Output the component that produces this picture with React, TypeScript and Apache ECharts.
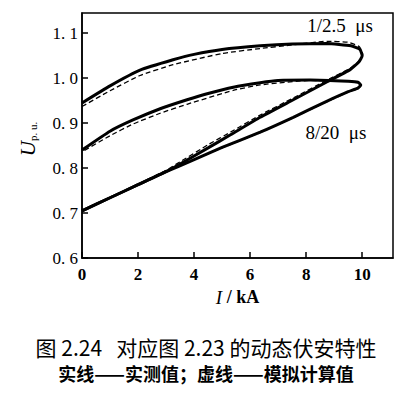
import React, { useEffect, useRef } from "react";
import * as echarts from "echarts";

// x ticks (kA) and y ticks (p.u.)
const xTickValues = [0, 2, 4, 6, 8, 10];
const yTickValues = [0.6, 0.7, 0.8, 0.9, 1.0, 1.1];

// 1/2.5 µs loop — measured (solid)
const loop1Measured: [number, number][] = [
  [0, 0.705], [1, 0.734], [2, 0.763], [3, 0.792], [3.5, 0.809], [4.5, 0.845],
  [5.3, 0.874], [6.36, 0.913], [7.54, 0.952], [8.75, 0.992], [9.57, 1.019],
  [9.88, 1.036], [10.0, 1.05], [9.92, 1.064], [9.6, 1.072], [8.75, 1.077],
  [7.5, 1.076], [6.36, 1.072], [5, 1.064], [4, 1.053], [3.25, 1.041],
  [2.07, 1.018], [1, 0.983], [0, 0.945],
];

// 1/2.5 µs loop — simulated (dashed)
const loop1Simulated: [number, number][] = [
  [0, 0.706], [1, 0.735], [2, 0.764], [3, 0.795], [3.5, 0.814], [4.5, 0.852],
  [5.3, 0.88], [6.36, 0.918], [7.54, 0.956], [8.75, 0.996], [9.57, 1.022],
  [9.88, 1.038], [10.02, 1.053], [9.9, 1.07], [9.5, 1.08], [8.75, 1.082],
  [7.5, 1.074], [6.36, 1.066], [5, 1.055], [3.25, 1.03], [2.07, 1.006],
  [1, 0.972], [0, 0.937],
];

// 8/20 µs loop — measured (solid)
const loop2Measured: [number, number][] = [
  [0, 0.705], [1, 0.734], [2, 0.763], [3, 0.792], [3.86, 0.815], [5, 0.846],
  [6.36, 0.88], [7.54, 0.913], [8.75, 0.949], [9.5, 0.97], [9.85, 0.978],
  [9.95, 0.985], [9.85, 0.991], [9.5, 0.993], [8.14, 0.996], [7, 0.995],
  [6.36, 0.99], [5.4, 0.98], [4.5, 0.966], [3.75, 0.952], [2.79, 0.932],
  [1.82, 0.907], [1, 0.882], [0, 0.84],
];

// 8/20 µs loop — simulated (dashed)
const loop2Simulated: [number, number][] = [
  [0, 0.705], [3, 0.792], [3.86, 0.815], [5, 0.845], [6.36, 0.879],
  [7.54, 0.912], [8.75, 0.948], [9.5, 0.969], [9.85, 0.977], [9.96, 0.983],
  [9.85, 0.99], [9.5, 0.993], [8.14, 0.995], [6.36, 0.985], [5.4, 0.973],
  [3.75, 0.942], [2.79, 0.922], [1.82, 0.898], [1, 0.872], [0, 0.836],
];

const SERIF = "'Liberation Serif', 'DejaVu Serif', serif";
const CJK = "'Noto Sans CJK SC', sans-serif";

export default function App() {
  const ref = useRef<HTMLDivElement>(null);
  useEffect(() => {
    if (!ref.current) return;
    const chart = echarts.init(ref.current, null, { renderer: "svg" });
    const solid = (name: string, data: [number, number][]) => ({
      name, type: "line", data, showSymbol: false, smooth: 0.15,
      lineStyle: { color: "#000", width: 3 }, z: 3,
    });
    const dashed = (name: string, data: [number, number][]) => ({
      name, type: "line", data, showSymbol: false, smooth: 0.15,
      lineStyle: { color: "#000", width: 1.3, type: [5, 3] }, z: 4,
    });
    chart.setOption({
      animation: false,
      backgroundColor: "#fff",
      grid: { left: 82, top: 13, right: 21, bottom: 141, show: true, borderColor: "#000", borderWidth: 1.5 },
      xAxis: {
        type: "value", min: 0, max: 11.1, interval: 2,
        axisLine: { lineStyle: { color: "#000", width: 1.5 } },
        axisTick: { inside: true, length: 6, lineStyle: { color: "#000", width: 1.5 } },
        axisLabel: {
          color: "#000", fontFamily: SERIF, fontSize: 17, fontWeight: "bold", margin: 8,
          showMaxLabel: false,
          formatter: (v: number) => (xTickValues.includes(Math.round(v)) && Math.abs(v - Math.round(v)) < 1e-6 ? String(Math.round(v)) : ""),
        },
        splitLine: { show: false },
        name: "{i|I}{t| / kA}",
        nameLocation: "middle",
        nameGap: 29,
        nameTextStyle: {
          color: "#000", fontFamily: SERIF, fontSize: 18,
          rich: {
            i: { fontStyle: "italic", fontFamily: SERIF, fontSize: 19, color: "#000" },
            t: { fontFamily: SERIF, fontSize: 18, fontWeight: "bold", color: "#000" },
          },
        },
      },
      yAxis: {
        type: "value", min: 0.6, max: 1.145, interval: 0.1,
        axisLine: { lineStyle: { color: "#000", width: 1.5 } },
        axisTick: { inside: true, length: 6, lineStyle: { color: "#000", width: 1.5 } },
        axisLabel: {
          color: "#000", fontFamily: SERIF, fontSize: 17, margin: 4,
          showMaxLabel: false,
          formatter: (v: number) => {
            const hit = yTickValues.find((t) => Math.abs(t - v) < 1e-6);
            return hit === undefined ? "" : hit.toFixed(1).replace(".", ". ");
          },
        },
        splitLine: { show: false },
      },
      series: [
        solid("1/2.5 μs 实测", loop1Measured),
        dashed("1/2.5 μs 模拟", loop1Simulated),
        solid("8/20 μs 实测", loop2Measured),
        dashed("8/20 μs 模拟", loop2Simulated),
      ],
      graphic: [
        { type: "text", x: 340, y: 25, style: { text: "1/2.5  μs", fontFamily: SERIF, fontSize: 19, fill: "#000", align: "center", verticalAlign: "middle" } },
        { type: "text", x: 336, y: 132, style: { text: "8/20  μs", fontFamily: SERIF, fontSize: 19, fill: "#000", align: "center", verticalAlign: "middle" } },
        {
          type: "text", x: 28, y: 139, rotation: Math.PI / 2,
          style: {
            text: "{u|U}{s|p. u.}", align: "center", verticalAlign: "middle", fill: "#000",
            rich: {
              u: { fontFamily: SERIF, fontStyle: "italic", fontSize: 21, fill: "#000", verticalAlign: "bottom" },
              s: { fontFamily: SERIF, fontSize: 11, fill: "#000", verticalAlign: "bottom" },
            },
          },
        },
        { type: "text", x: 206, y: 347, style: { text: "图 2.24   对应图 2.23 的动态伏安特性", fontFamily: CJK, fontSize: 21, fill: "#000", align: "center", verticalAlign: "middle" } },
        { type: "text", x: 206, y: 373, style: { text: "实线——实测值；虚线——模拟计算值", fontFamily: CJK, fontSize: 18, fontWeight: "bold", fill: "#000", align: "center", verticalAlign: "middle" } },
      ],
    });
    return () => chart.dispose();
  }, []);
  return <div ref={ref} style={{ position: "absolute", left: 0, top: 0, width: 414, height: 399 }} />;
}
